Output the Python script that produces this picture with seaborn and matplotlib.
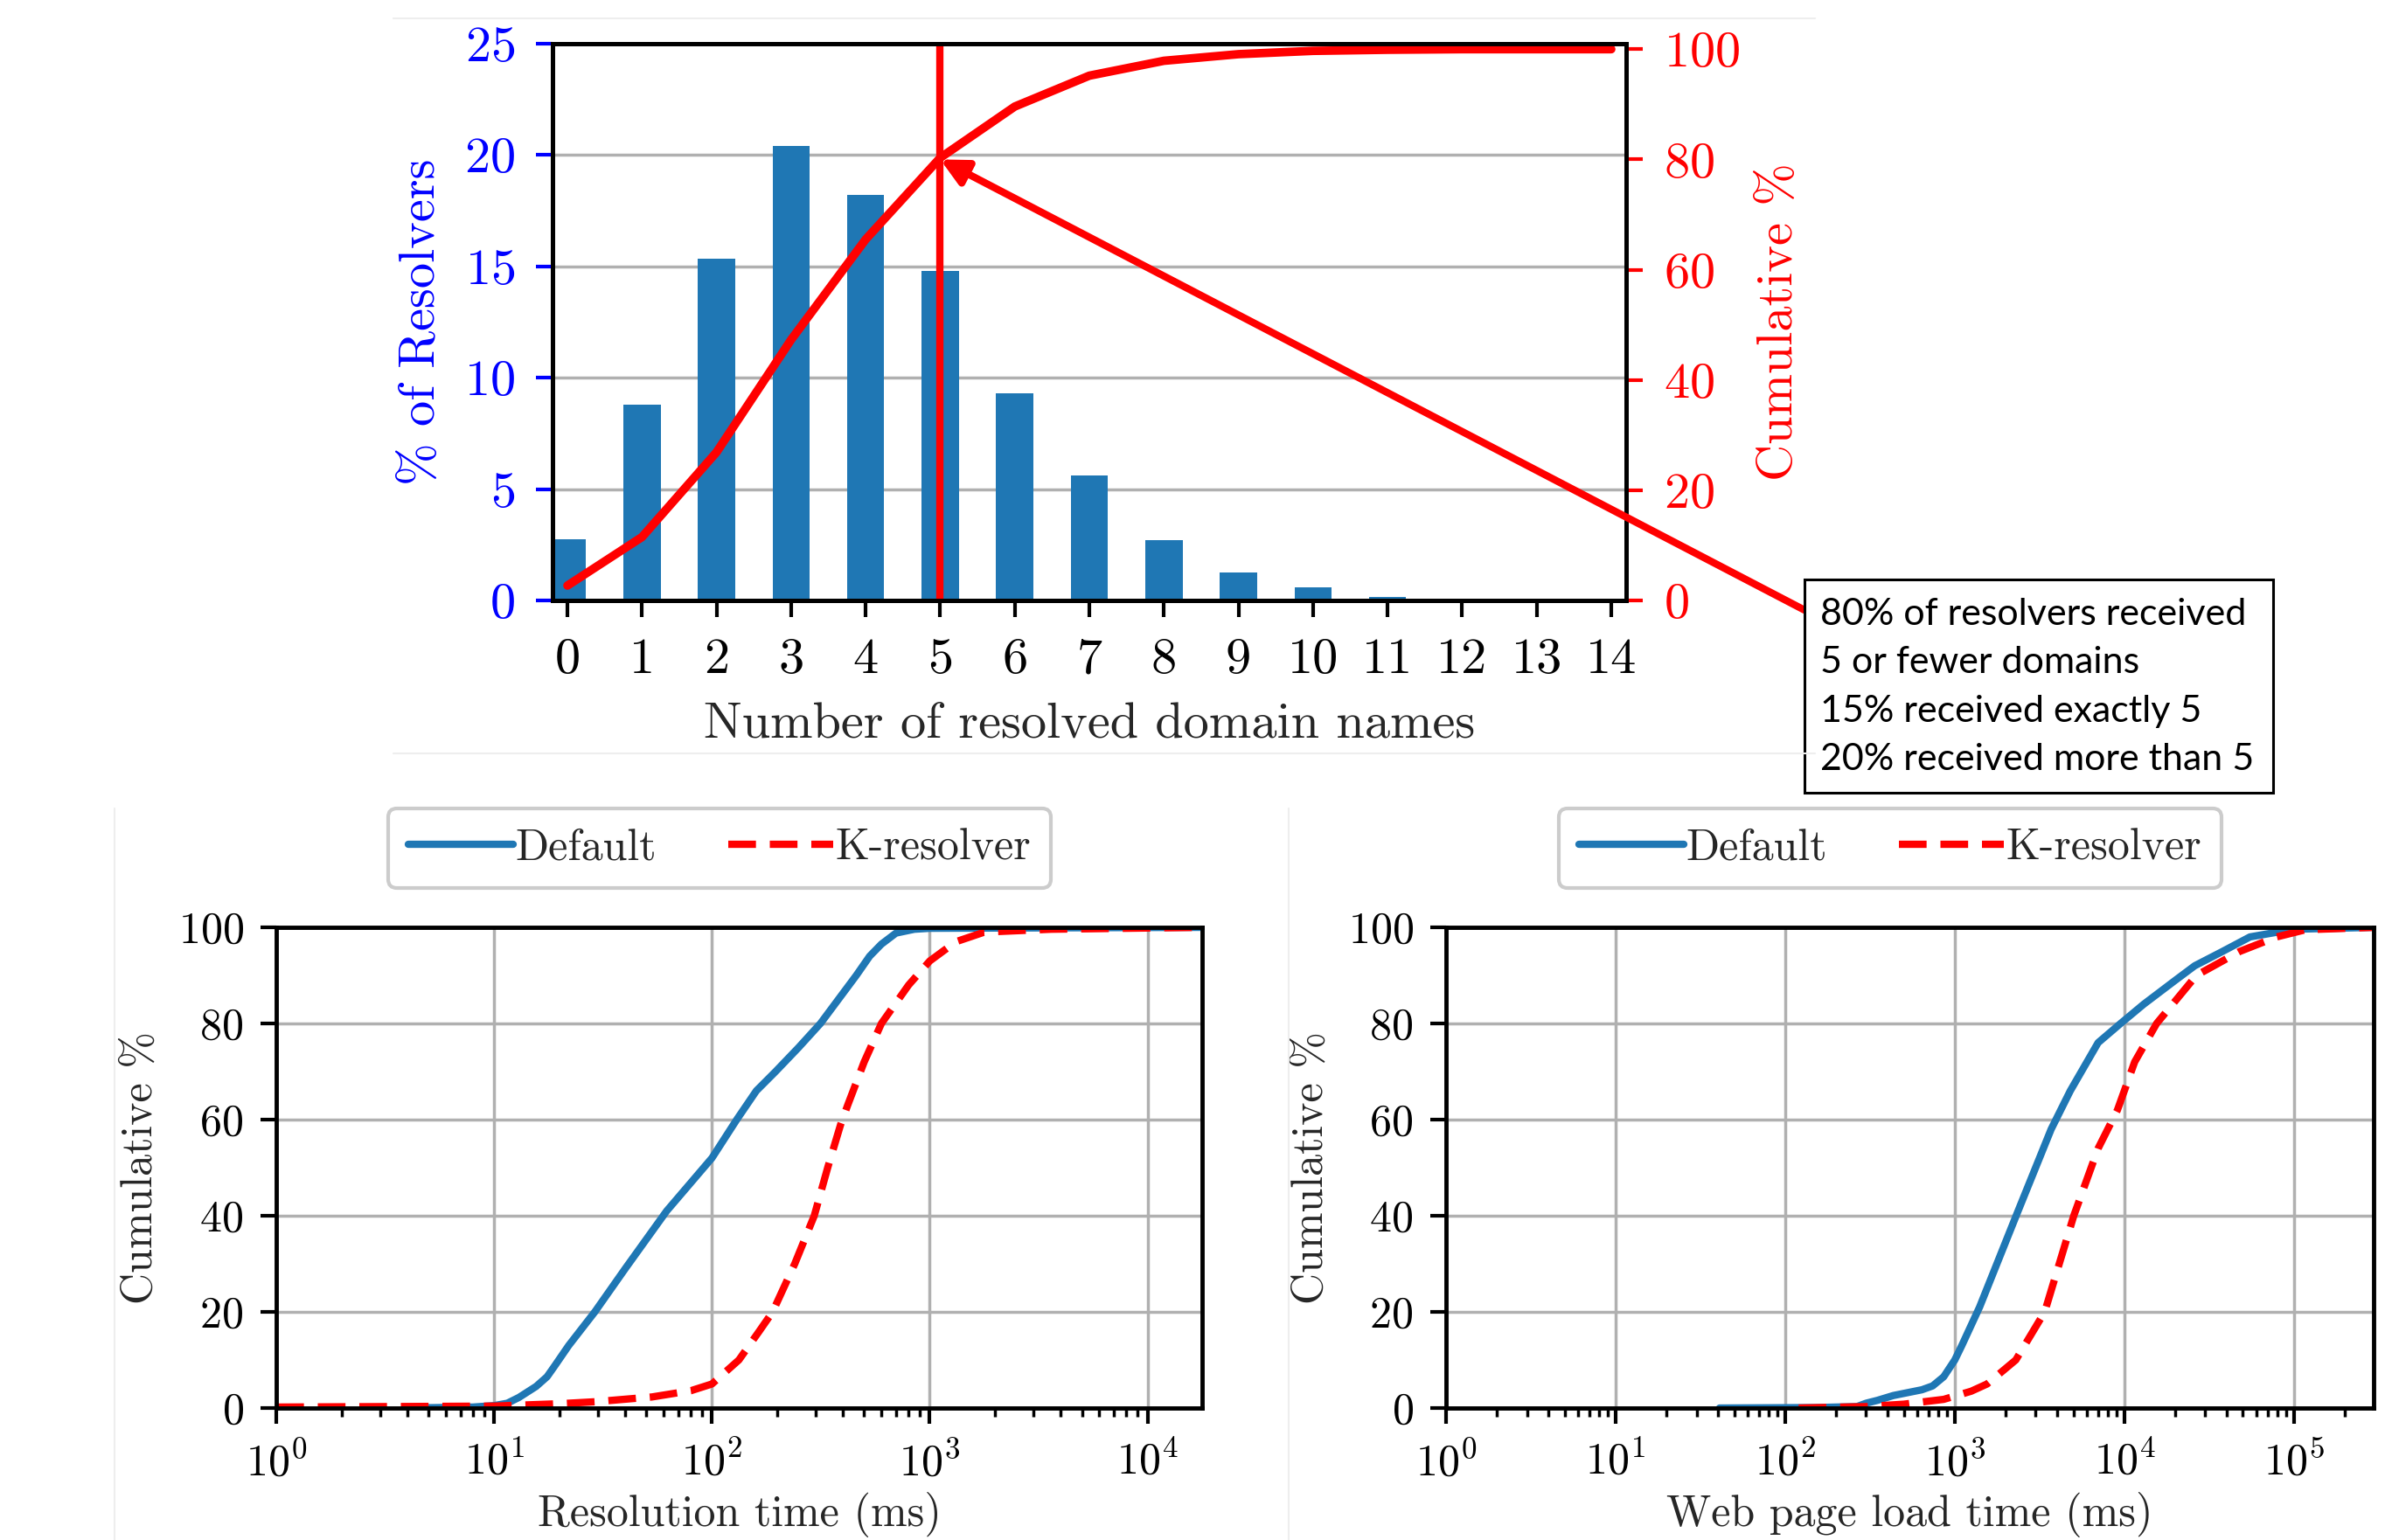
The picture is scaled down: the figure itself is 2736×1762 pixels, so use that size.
import matplotlib
matplotlib.use("Agg")
import matplotlib.pyplot as plt
from matplotlib.patches import Rectangle
from matplotlib.lines import Line2D
import seaborn as sns

# top panel: share of resolvers by number of resolved domains
domains = list(range(15))
pct_resolvers = [2.75, 8.8, 15.35, 20.4, 18.2, 14.8, 9.3, 5.6, 2.7, 1.25, 0.6, 0.15, 0.08, 0.03, 0.02]
cumulative_pct = [2.7, 11.5, 26.9, 47.3, 65.5, 80.3, 89.6, 95.2, 97.9, 99.1, 99.7, 99.9, 100, 100, 100]

note_lines = ["80% of resolvers received", "5 or fewer domains",
              "15% received exactly 5", "20% received more than 5"]

# bottom left: resolution time CDF
res_default_ms = [4, 8, 10, 11.5, 13, 15.6, 17.5, 19, 22, 29, 40, 62, 100, 130, 160, 196,
                  250, 315, 460, 530, 600, 700, 850, 1000, 18000]
res_default_cdf = [0, 0.2, 0.5, 1, 2.2, 4.5, 6.5, 8.8, 13, 20, 29, 41, 52, 60, 66, 70,
                   75, 80, 90, 94, 96.5, 98.8, 99.6, 99.8, 100]
res_kres_ms = [1, 10, 20, 29, 53, 80, 100, 133, 165, 190, 240, 295, 340, 390, 420, 500,
               600, 800, 1000, 1318, 1780, 3600, 18000]
res_kres_cdf = [0.2, 0.4, 0.9, 1.3, 2.3, 3.6, 5, 10, 16, 20, 30, 40, 50, 59, 63, 72,
                80, 88, 93, 97, 99, 99.6, 100]

# bottom right: web page load time CDF
web_default_ms = [41, 150, 265, 300, 350, 434, 640, 740, 860, 1000, 1100, 1400, 2300, 3700,
                  4800, 7000, 9500, 13000, 20000, 26000, 38000, 55000, 100000, 300000]
web_default_cdf = [0, 0.1, 0.3, 1.0, 1.6, 2.6, 3.8, 4.6, 6.5, 10, 13, 21, 40, 58,
                   66, 76, 80, 84, 89, 92, 95, 98, 99.6, 100]
web_kres_ms = [120, 300, 500, 860, 1250, 1550, 2290, 3390, 5030, 7000, 9100, 11500, 15500,
               26600, 48000, 79000, 117000, 300000]
web_kres_cdf = [0, 0.3, 0.8, 1.8, 3.5, 5, 10, 20, 40, 54, 62, 72, 80,
                90, 95, 98, 99.5, 100]

BLUE = "#1f77b4"
RED = "#ff0000"
GRID = "#b0b0b0"

sns.set_theme(style="ticks")
plt.rcParams["font.family"] = "cmr10"
plt.rcParams["mathtext.fontset"] = "cm"
plt.rcParams["axes.formatter.use_mathtext"] = True
plt.rcParams["axes.unicode_minus"] = False

W, H = 2736, 1762
fig = plt.figure(figsize=(W / 100, H / 100), dpi=100)


def px_box(x0, y0, x1, y1):
    return [x0 / W, 1 - y1 / H, (x1 - x0) / W, (y1 - y0) / H]


# ---- top panel
ax = fig.add_axes(px_box(632, 50, 1860, 687))
sns.barplot(x=domains, y=pct_resolvers, ax=ax, color=BLUE, width=0.5, saturation=1, linewidth=0)
ax.set_xlim(-0.2, 14.2)
ax.set_ylim(0, 25)
ax.set_yticks(range(0, 26, 5))
ax.yaxis.grid(True, color=GRID, lw=2.5)
ax.set_axisbelow(True)
ax.tick_params(axis="y", colors="blue", labelsize=42, length=14, width=3, pad=17)
ax.tick_params(axis="x", colors="black", labelsize=42, length=14, width=3, pad=17)
ax.set_xlabel("Number of resolved domain names", fontsize=42)
ax.xaxis.set_label_coords(0.5, -0.223)
ax.xaxis.label.set_verticalalignment("center")
ax.set_ylabel("% of Resolvers", color="blue", fontsize=42)
ax.yaxis.set_label_coords(-0.122, 0.5)
ax.yaxis.label.set_verticalalignment("center")

ax2 = ax.twinx()
sns.lineplot(x=domains, y=cumulative_pct, ax=ax2, color=RED, linewidth=7)
ax2.axvline(5, color=RED, lw=6)
ax2.set_ylim(0, 101)
ax2.set_yticks(range(0, 101, 20))
ax2.tick_params(axis="y", colors=RED, labelsize=42, length=14, width=3, pad=17)
ax2.set_ylabel("Cumulative %", color=RED, fontsize=42)
ax2.yaxis.set_label_coords(1.143, 0.5)
ax2.yaxis.label.set_verticalalignment("center")
for a in (ax, ax2):
    for s in a.spines.values():
        s.set_color("black")
        s.set_linewidth(3.5)

ax2.annotate("", xy=(5, 80), xycoords="data",
             xytext=(2064 / W, 1 - 698 / H), textcoords="figure fraction",
             arrowprops=dict(arrowstyle="-|>", color=RED, lw=6, mutation_scale=45,
                             shrinkA=0, shrinkB=0),
             annotation_clip=False)

box = Rectangle((2064 / W, 1 - 907 / H), 536 / W, 244 / H, transform=fig.transFigure,
                facecolor="white", edgecolor="black", lw=2.2)
fig.add_artist(box)
fig.text(2082 / W, 1 - 786 / H, "\n".join(note_lines), ha="left", va="center",
         fontsize=31, family="Lato", linespacing=1.55, color="black")


# ---- bottom panels
def cdf_panel(rect, xd, yd, xk, yk, xmax, xlabel, ylabel_x):
    a = fig.add_axes(rect)
    a.set_xscale("log")
    sns.lineplot(x=xd, y=yd, ax=a, color=BLUE, linewidth=6, label="Default")
    sns.lineplot(x=xk, y=yk, ax=a, color=RED, linewidth=6, linestyle=(0, (3.8, 1.9)),
                 label="K-resolver")
    a.set_xlim(1, xmax)
    a.set_ylim(0, 100)
    a.set_yticks(range(0, 101, 20))
    a.grid(True, which="major", color=GRID, lw=2.5)
    a.tick_params(which="major", labelsize=36, length=13, width=3, pad=14, colors="black")
    a.tick_params(which="minor", axis="x", length=7.5, width=2.5, colors="black")
    a.set_xlabel(xlabel, fontsize=36)
    a.xaxis.set_label_coords(0.5, -0.222)
    a.xaxis.label.set_verticalalignment("center")
    a.set_ylabel("Cumulative %", fontsize=36)
    a.yaxis.set_label_coords(ylabel_x, 0.5)
    a.yaxis.label.set_verticalalignment("center")
    for s in a.spines.values():
        s.set_color("black")
        s.set_linewidth(3.5)
    leg = a.legend(loc="lower center", bbox_to_anchor=(0.479, 1.082), ncol=2, fontsize=36,
                   frameon=True, fancybox=True, framealpha=1, edgecolor="#cccccc",
                   handlelength=2.4, handletextpad=0.05, columnspacing=1.65, borderpad=0.45,
                   borderaxespad=0)
    leg.get_frame().set_linewidth(3)
    return a


cdf_panel(px_box(316, 1061, 1375, 1611), res_default_ms, res_default_cdf,
          res_kres_ms, res_kres_cdf, 1.78e4, "Resolution time (ms)", -0.147)
cdf_panel(px_box(1654, 1061, 2715, 1611), web_default_ms, web_default_cdf,
          web_kres_ms, web_kres_cdf, 2.95e5, "Web page load time (ms)", -0.145)

# faint panel borders from the composite
for x0, y0, x1, y1 in [(450, 21, 2076, 21), (450, 862, 2076, 862),
                       (131, 925, 131, H), (1474, 925, 1474, H)]:
    fig.add_artist(Line2D([x0 / W, x1 / W], [1 - y0 / H, 1 - y1 / H],
                          transform=fig.transFigure, color="#eeeeee", lw=1.5))

fig.savefig("out.png", dpi=100)
